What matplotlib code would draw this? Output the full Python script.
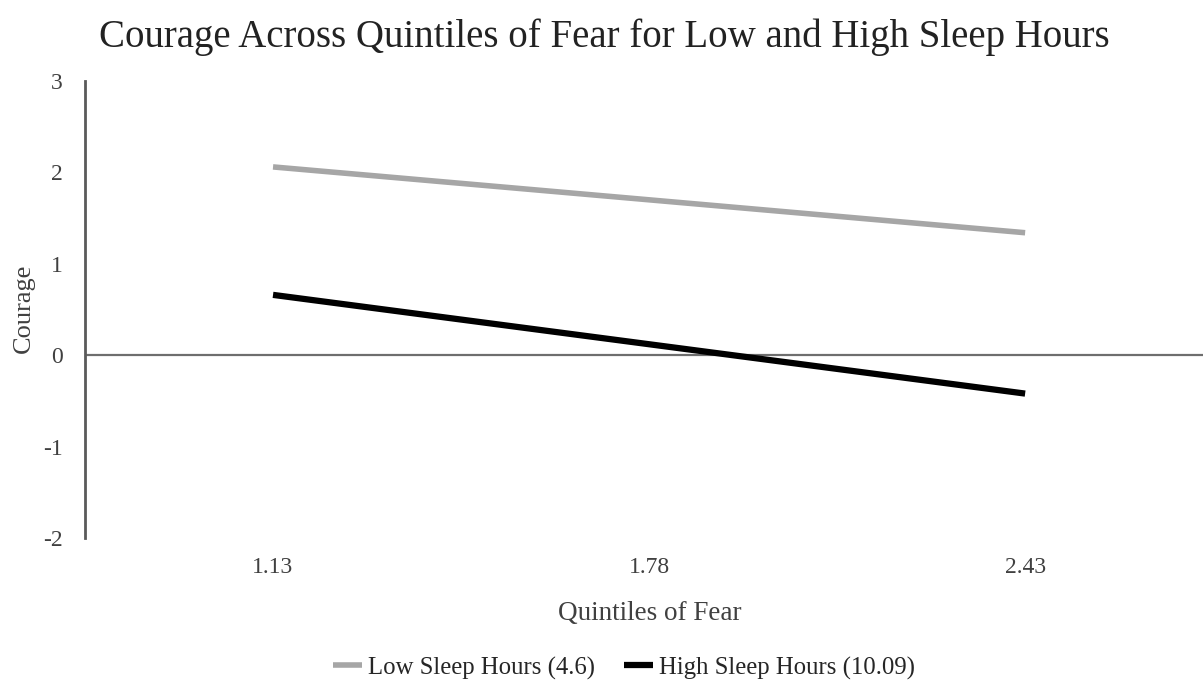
import matplotlib
matplotlib.use("Agg")
import matplotlib.pyplot as plt

# data
categories = ["1.13", "1.78", "2.43"]
low_sleep = [2.06, 1.70, 1.34]
high_sleep = [0.66, 0.12, -0.42]
series_names = ["Low Sleep Hours (4.6)", "High Sleep Hours (10.09)"]

plt.rcParams['font.family'] = ['Liberation Serif', 'DejaVu Serif']

fig = plt.figure(figsize=(12.03, 6.81), dpi=100)
ax = fig.add_axes([85 / 1203, 1 - 538 / 681, 1 - 85 / 1203, (538 - 81) / 681])

x = list(range(len(categories)))
ax.plot(x, low_sleep, color='#a6a6a6', lw=4, solid_capstyle='butt', label=series_names[0])
ax.plot(x, high_sleep, color='black', lw=4.5, solid_capstyle='butt', label=series_names[1])

# zero line across the plot
ax.axhline(0, color='#6e6e6e', lw=1.6, zorder=1)

ax.set_xlim(-0.5, 2.473)
ax.set_ylim(-2, 3)
ax.set_yticks([-2, -1, 0, 1, 2, 3])
ax.set_yticklabels(['-2', '-1', '0', '1', '2', '3'])
ax.set_xticks(x)
ax.set_xticklabels(categories)

for s in ['top', 'right', 'bottom']:
    ax.spines[s].set_visible(False)
ax.spines['left'].set_color('#5a5a5a')
ax.spines['left'].set_linewidth(2)

ax.tick_params(axis='both', length=0, labelsize=17, colors='#404040')
ax.tick_params(axis='x', pad=14)
ax.tick_params(axis='y', pad=16)

ax.set_ylabel('Courage', fontsize=19, color='#404040', va='center')
ax.yaxis.set_label_coords((24 - 85) / 1118, (538 - 308) / 457)
ax.set_xlabel('Quintiles of Fear', fontsize=19.5, color='#404040')
ax.xaxis.set_label_coords((650 - 85) / 1118, -(613 - 538) / 457)
ax.xaxis.label.set_va('center')

fig.suptitle('Courage Across Quintiles of Fear for Low and High Sleep Hours',
             fontsize=28, color='#222222', x=(100 + 1109) / 2 / 1203, y=1 - 37 / 681, va='center')

fig.legend(loc='center', bbox_to_anchor=(624 / 1203, 1 - 668 / 681), ncol=2, frameon=False,
           fontsize=17.8, handlelength=1.17, handletextpad=0.24, columnspacing=1.2,
           labelcolor='#262626', borderaxespad=0, borderpad=0)

fig.savefig('out.png', dpi=100)
